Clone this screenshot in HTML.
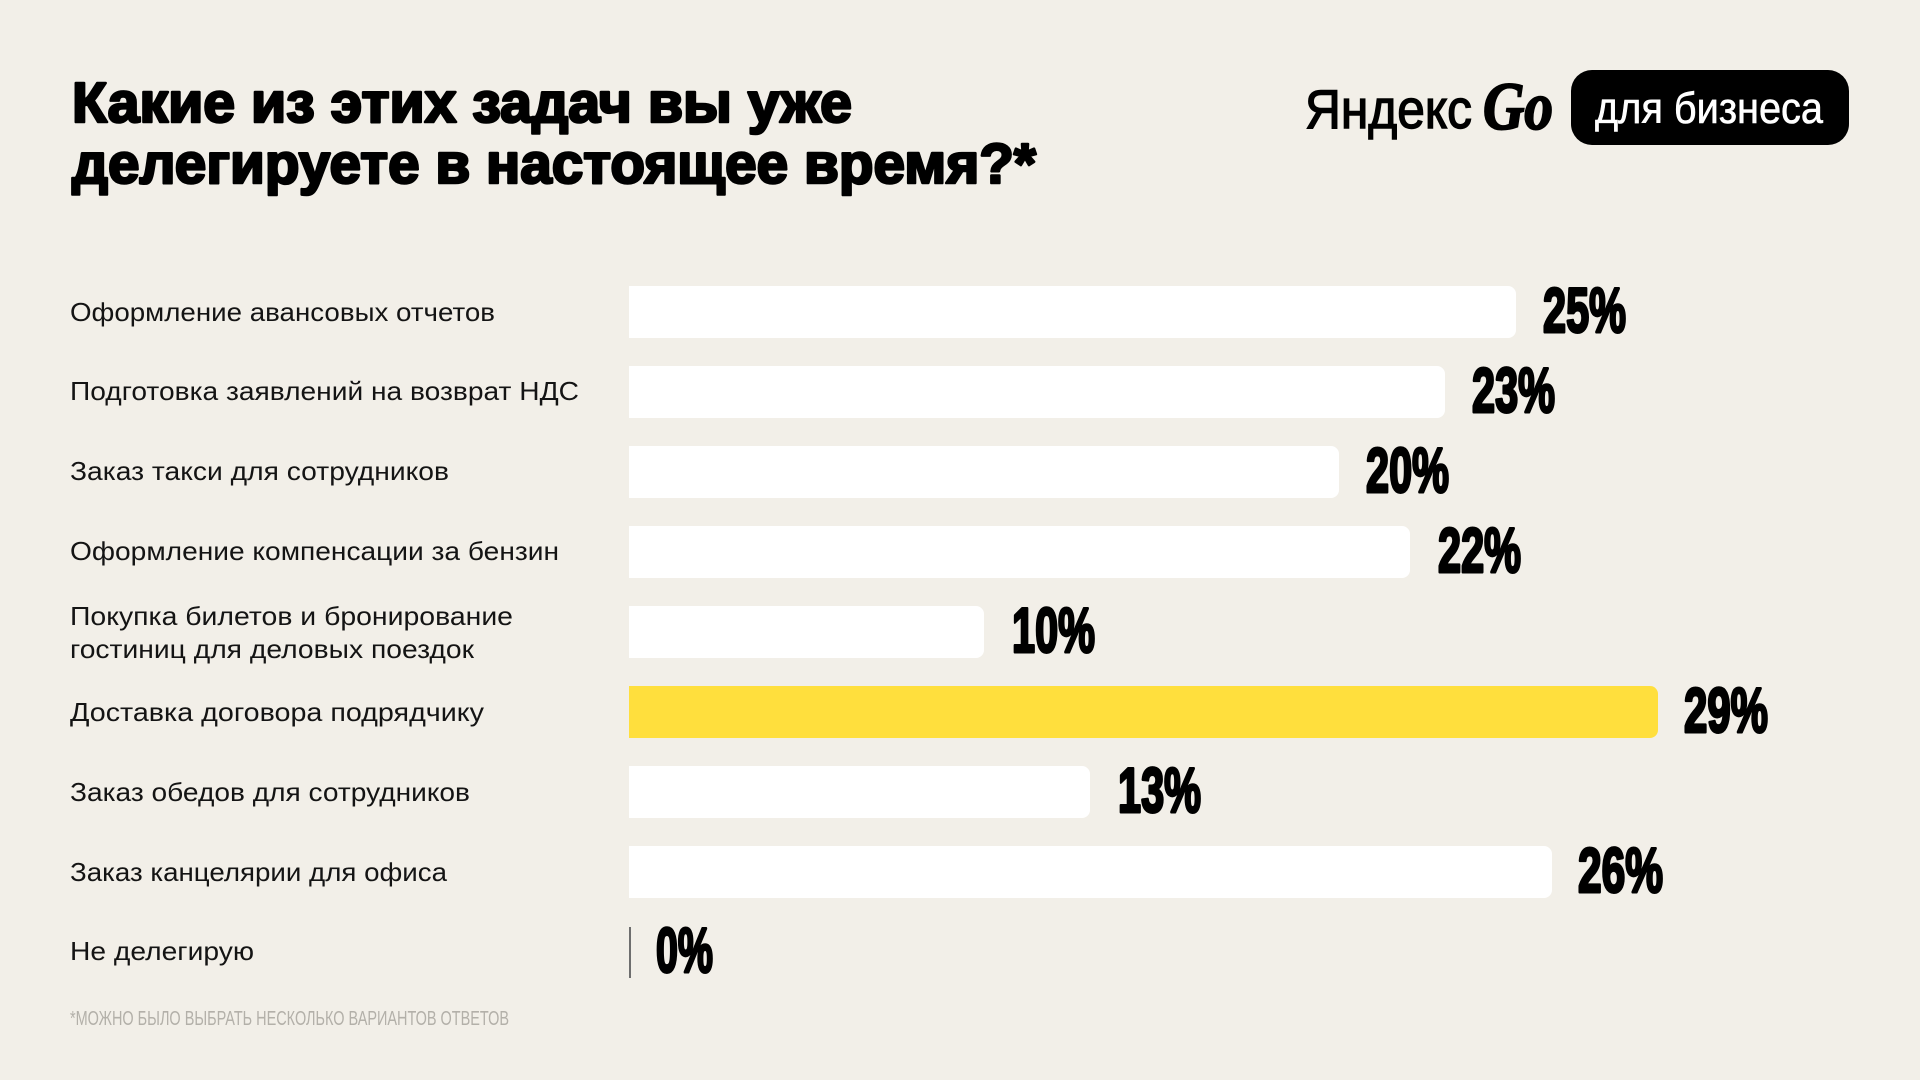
<!DOCTYPE html>
<html>
<head>
<meta charset="utf-8">
<style>
html,body{margin:0;padding:0;background:#f2efe8;}
svg{display:block;}
.lbl{font-family:"Liberation Sans","Noto Sans CJK SC",sans-serif;font-size:26px;fill:#141414;}
.pct{font-family:"Liberation Sans","Noto Sans CJK SC",sans-serif;font-weight:bold;font-size:63px;fill:#000;stroke:#000;stroke-width:3;stroke-linejoin:round;}
.ttl{font-family:"Liberation Sans","Noto Sans CJK SC",sans-serif;font-weight:bold;font-size:57px;fill:#000;stroke:#000;stroke-width:2.6;stroke-linejoin:round;}
</style>
</head>
<body>
<svg width="1920" height="1080" viewBox="0 0 1920 1080" xmlns="http://www.w3.org/2000/svg">
<rect x="0" y="0" width="1920" height="1080" fill="#f2efe8"/>

<!-- Title -->
<text class="ttl" x="72" y="122" textLength="780" lengthAdjust="spacingAndGlyphs">Какие из этих задач вы уже</text>
<text class="ttl" x="72" y="183" textLength="964" lengthAdjust="spacingAndGlyphs">делегируете в настоящее время?*</text>

<!-- Logo -->
<text x="1305" y="128" font-family="Liberation Sans, sans-serif" font-size="55" fill="#000" stroke="#000" stroke-width="1.4" textLength="167" lengthAdjust="spacingAndGlyphs">Яндекс</text>
<text x="1483" y="129" font-family="Liberation Serif, serif" font-weight="bold" font-style="italic" font-size="68" fill="#000" stroke="#000" stroke-width="2" textLength="70" lengthAdjust="spacingAndGlyphs">Go</text>
<rect x="1571" y="70" width="278" height="75" rx="21" ry="21" fill="#000"/>
<text x="1595" y="123" font-family="Liberation Sans, sans-serif" font-size="44" fill="#fff" stroke="#fff" stroke-width="0.6" textLength="228" lengthAdjust="spacingAndGlyphs">для бизнеса</text>

<!-- Labels -->
<text class="lbl" x="70" y="321" textLength="425" lengthAdjust="spacingAndGlyphs">Оформление авансовых отчетов</text>
<text class="lbl" x="70" y="400" textLength="509" lengthAdjust="spacingAndGlyphs">Подготовка заявлений на возврат НДС</text>
<text class="lbl" x="70" y="480" textLength="379" lengthAdjust="spacingAndGlyphs">Заказ такси для сотрудников</text>
<text class="lbl" x="70" y="560" textLength="489" lengthAdjust="spacingAndGlyphs">Оформление компенсации за бензин</text>
<text class="lbl" x="70" y="625" textLength="443" lengthAdjust="spacingAndGlyphs">Покупка билетов и бронирование</text>
<text class="lbl" x="70" y="658" textLength="404" lengthAdjust="spacingAndGlyphs">гостиниц для деловых поездок</text>
<text class="lbl" x="70" y="721" textLength="414" lengthAdjust="spacingAndGlyphs">Доставка договора подрядчику</text>
<text class="lbl" x="70" y="801" textLength="400" lengthAdjust="spacingAndGlyphs">Заказ обедов для сотрудников</text>
<text class="lbl" x="70" y="881" textLength="377" lengthAdjust="spacingAndGlyphs">Заказ канцелярии для офиса</text>
<text class="lbl" x="70" y="960" textLength="184" lengthAdjust="spacingAndGlyphs">Не делегирую</text>

<!-- Bars (square left, rounded right) -->
<path d="M629 286 H1508 a8 8 0 0 1 8 8 V330 a8 8 0 0 1 -8 8 H629 Z" fill="#ffffff"/>
<path d="M629 366 H1437 a8 8 0 0 1 8 8 V410 a8 8 0 0 1 -8 8 H629 Z" fill="#ffffff"/>
<path d="M629 446 H1331 a8 8 0 0 1 8 8 V490 a8 8 0 0 1 -8 8 H629 Z" fill="#ffffff"/>
<path d="M629 526 H1402 a8 8 0 0 1 8 8 V570 a8 8 0 0 1 -8 8 H629 Z" fill="#ffffff"/>
<path d="M629 606 H976 a8 8 0 0 1 8 8 V650 a8 8 0 0 1 -8 8 H629 Z" fill="#ffffff"/>
<path d="M629 686 H1650 a8 8 0 0 1 8 8 V730 a8 8 0 0 1 -8 8 H629 Z" fill="#ffdf3d"/>
<path d="M629 766 H1082 a8 8 0 0 1 8 8 V810 a8 8 0 0 1 -8 8 H629 Z" fill="#ffffff"/>
<path d="M629 846 H1544 a8 8 0 0 1 8 8 V890 a8 8 0 0 1 -8 8 H629 Z" fill="#ffffff"/>
<rect x="629" y="927" width="2" height="51" fill="#6e6e6e"/>

<!-- Percent values -->
<text class="pct" x="1543" y="332" textLength="83" lengthAdjust="spacingAndGlyphs">25%</text>
<text class="pct" x="1472" y="412" textLength="83" lengthAdjust="spacingAndGlyphs">23%</text>
<text class="pct" x="1366" y="492" textLength="83" lengthAdjust="spacingAndGlyphs">20%</text>
<text class="pct" x="1438" y="572" textLength="83" lengthAdjust="spacingAndGlyphs">22%</text>
<text class="pct" x="1012" y="652" textLength="83" lengthAdjust="spacingAndGlyphs">10%</text>
<text class="pct" x="1684" y="732" textLength="84" lengthAdjust="spacingAndGlyphs">29%</text>
<text class="pct" x="1118" y="812" textLength="83" lengthAdjust="spacingAndGlyphs">13%</text>
<text class="pct" x="1578" y="892" textLength="85" lengthAdjust="spacingAndGlyphs">26%</text>
<text class="pct" x="656" y="972" textLength="57" lengthAdjust="spacingAndGlyphs">0%</text>

<!-- Footnote -->
<text x="70" y="1025" font-family="Liberation Sans, sans-serif" font-size="20" fill="#b3b0a9" textLength="439" lengthAdjust="spacingAndGlyphs">*МОЖНО БЫЛО ВЫБРАТЬ НЕСКОЛЬКО ВАРИАНТОВ ОТВЕТОВ</text>
</svg>
</body>
</html>
